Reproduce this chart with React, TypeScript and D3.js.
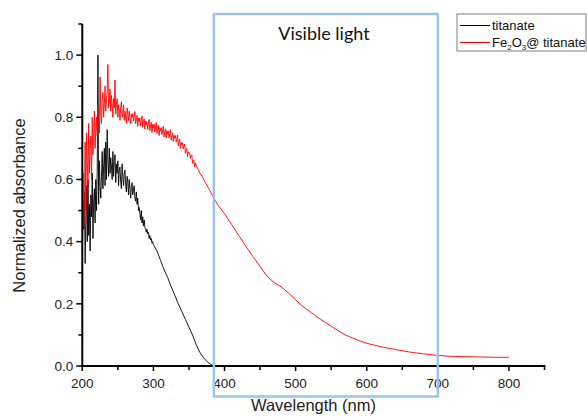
import React from "react";
import * as d3 from "d3";

// ---- Data ----
const titanateWl = [
  200,201,202,203,204,205,206,207,208,209,
  210,211,212,213,214,215,216,217,218,219,
  220,221,222,223,224,225,226,227,228,229,
  230,231,232,233,234,235,236,237,238,239,
  240,241,242,243,244,245,246,247,248,249,
  250,251,252,253,254,255,256,257,258,259,
  260,261,262,263,264,265,266,267,268,269,
  270,271,272,273,274,275,276,277,278,279,
  280,281,282,283,284,285,286,287,288,289,
  290,291,292,293,294,295,296,297,298,299,300,
  305,310,315,320,325,330,335,340,345,350,355,360,365,370,375,380,385,
];
const titanateAbs = [
  .36,.50,.44,.56,.33,.47,.58,.40,.60,.42,
  .52,.37,.55,.48,.62,.41,.53,.57,.46,.60,
  .50,.63,1.00,.52,.66,.58,.54,.61,.69,.57,
  .64,.70,.58,.72,.60,.76,.66,.61,.70,.62,
  .67,.64,.60,.69,.61,.66,.68,.59,.65,.62,
  .66,.58,.63,.64,.59,.57,.65,.61,.58,.62,
  .63,.58,.56,.61,.59,.55,.60,.57,.54,.58,
  .59,.55,.57,.58,.54,.53,.56,.52,.54,.50,
  .51,.49,.47,.50,.46,.48,.45,.47,.445,.44,
  .43,.44,.425,.43,.41,.42,.405,.41,.395,.40,.39,
  .37,.34,.31,.285,.255,.228,.20,.175,.15,.125,.10,.07,.045,.028,.015,.006,.0,
];

const fe2o3Wl = [
  200,201,202,203,204,205,206,207,208,209,
  210,211,212,213,214,215,216,217,218,219,
  220,221,222,223,224,225,226,227,228,229,
  230,231,232,233,234,235,236,237,238,239,
  240,241,242,243,244,245,246,247,248,249,
  250,251,252,253,254,255,256,257,258,259,
  260,261,262,263,264,265,266,267,268,269,
  270,271,272,273,274,275,276,277,278,279,
  280,281,282,283,284,285,286,287,288,289,
  290,291,292,293,294,295,296,297,298,299,
  300,301,302,303,304,305,306,307,308,309,
  310,311,312,313,314,315,316,317,318,319,
  320,321,322,323,324,325,326,327,328,329,
  330,331,332,333,334,335,336,337,338,339,
  340,341,342,343,344,345,346,347,348,349,
  350,351,352,353,354,355,356,357,358,359,360,
  363,366,369,372,375,378,381,384,387,390,
  400,410,420,430,440,450,460,470,480,490,500,510,520,530,540,550,560,570,580,590,600,
  620,640,660,680,700,720,740,760,780,800,
];
const fe2o3Abs = [
  .38,.62,.45,.52,.72,.50,.75,.66,.58,.78,
  .62,.70,.74,.60,.80,.68,.73,.82,.70,.76,
  .80,.74,.84,.79,.75,.93,.81,.78,.86,.88,
  .80,.84,.90,.82,.86,.88,.97,.83,.85,.89,
  .82,.87,.84,.80,.86,.83,.92,.81,.84,.86,
  .80,.84,.82,.79,.83,.85,.80,.81,.84,.79,
  .82,.80,.78,.83,.81,.79,.82,.80,.78,.81,
  .80,.812,.788,.803,.818,.779,.792,.806,.771,.797,
  .787,.798,.772,.79,.804,.768,.783,.795,.762,.788,
  .776,.786,.761,.779,.793,.757,.772,.784,.751,.777,
  .766,.778,.752,.769,.783,.748,.762,.774,.741,.766,
  .757,.767,.744,.758,.771,.737,.753,.763,.734,.757,
  .746,.756,.733,.748,.76,.726,.741,.75,.722,.742,
  .733,.741,.72,.731,.743,.708,.722,.73,.7,.719,
  .712,.718,.698,.707,.714,.684,.695,.7,.673,.689,
  .684,.686,.668,.674,.679,.652,.661,.663,.64,.653,.645,
  .632,.618,.608,.594,.582,.57,.557,.545,.532,.52,
  .49,.455,.42,.385,.352,.32,.288,.268,.254,.235,.213,.192,.175,.158,.143,.128,.113,.10,.09,.081,.073,
  .062,.053,.045,.039,.034,.031,.030,.029,.028,.028,
];

const xMajorTicks = [200, 300, 400, 500, 600, 700, 800];
const xMinorTicks = [250, 350, 450, 550, 650, 750, 850];
const yMajorTicks = [0, 0.2, 0.4, 0.6, 0.8, 1.0];
const yMinorTicks = [0.1, 0.3, 0.5, 0.7, 0.9, 1.1];

const W = 587;
const H = 419;

export default function App() {
  const x = d3.scaleLinear().domain([200, 850]).range([82.3, 544.5]);
  const y = d3.scaleLinear().domain([0, 1.1]).range([366, 24]);

  const line = d3
    .line<[number, number]>()
    .x((d) => x(d[0]))
    .y((d) => y(d[1]));

  const tiPts: [number, number][] = titanateWl.map((w, i) => [w, titanateAbs[i]]);
  const fePts: [number, number][] = fe2o3Wl.map((w, i) => [w, fe2o3Abs[i]]);

  const font = "Arial, 'Liberation Sans', sans-serif";
  const x0 = x(200);
  const x1 = x(850);
  const yb = y(0);
  const yt = y(1.1);

  const boxL = x(385);
  const boxR = x(700);

  return (
    <svg
      width={W}
      height={H}
      viewBox={`0 0 ${W} ${H}`}
      style={{ position: "absolute", left: 0, top: 0, background: "#fff" }}
    >
      <rect x={0} y={0} width={W} height={H} fill="#fff" />

      {/* curves */}
      <path d={line(tiPts) || ""} fill="none" stroke="#000" strokeWidth={0.9} />
      <path d={line(fePts) || ""} fill="none" stroke="#ff0000" strokeWidth={0.9} />

      {/* axes */}
      <line x1={x0} y1={yb} x2={x1 + 1} y2={yb} stroke="#000" strokeWidth={2} />
      <line x1={x0} y1={yt} x2={x0} y2={yb + 1} stroke="#000" strokeWidth={2} />

      {xMajorTicks.map((t) => (
        <g key={"xm" + t}>
          <line x1={x(t)} x2={x(t)} y1={yb} y2={yb + 5} stroke="#000" strokeWidth={1.5} />
          <text x={x(t)} y={388} textAnchor="middle" fontFamily={font} fontSize={13.5} fill="#222">
            {t}
          </text>
        </g>
      ))}
      {xMinorTicks.map((t) => (
        <line key={"xn" + t} x1={x(t)} x2={x(t)} y1={yb} y2={yb + 4} stroke="#000" strokeWidth={1.5} />
      ))}

      {yMajorTicks.map((t) => (
        <g key={"ym" + t}>
          <line x1={x0 - 6} x2={x0} y1={y(t)} y2={y(t)} stroke="#000" strokeWidth={1.5} />
          <text x={x0 - 9} y={y(t)} dy="0.35em" textAnchor="end" fontFamily={font} fontSize={13.5} fill="#222">
            {t.toFixed(1)}
          </text>
        </g>
      ))}
      {yMinorTicks.map((t) => (
        <line key={"yn" + t} x1={x0 - 4} x2={x0} y1={y(t)} y2={y(t)} stroke="#000" strokeWidth={1.5} />
      ))}

      {/* axis titles */}
      <text x={313.5} y={411} textAnchor="middle" fontFamily={font} fontSize={16.5} fill="#222">
        Wavelength (nm)
      </text>
      <text
        transform="translate(25,205.5) rotate(-90)"
        textAnchor="middle"
        fontFamily={font}
        fontSize={16.5}
        fill="#222"
      >
        Normalized absorbance
      </text>

      {/* visible light box */}
      <rect
        x={boxL}
        y={14}
        width={boxR - boxL}
        height={396.5 - 14}
        fill="none"
        stroke="#9dc3e6"
        strokeWidth={2.5}
      />
      <text
        x={324}
        y={39.5}
        textAnchor="middle"
        fontFamily="Lato, 'Open Sans', sans-serif"
        fontSize={18}
        fill="#111"
      >
        Visible light
      </text>

      {/* legend */}
      <rect x={457} y={14} width={129} height={37} fill="#fff" stroke="#808080" strokeWidth={1} />
      <line x1={460} x2={490} y1={25.5} y2={25.5} stroke="#000" strokeWidth={1} />
      <line x1={460} x2={490} y1={42.5} y2={42.5} stroke="#ff0000" strokeWidth={1} />
      <text x={492} y={30} fontFamily={font} fontSize={13} fill="#111">
        titanate
      </text>
      <text x={492} y={46.5} fontFamily={font} fontSize={13} fill="#111">
        Fe
        <tspan fontSize={8} dy={3}>2</tspan>
        <tspan dy={-3}>O</tspan>
        <tspan fontSize={8} dy={3}>3</tspan>
        <tspan dy={-3}>@ titanate</tspan>
      </text>
    </svg>
  );
}
